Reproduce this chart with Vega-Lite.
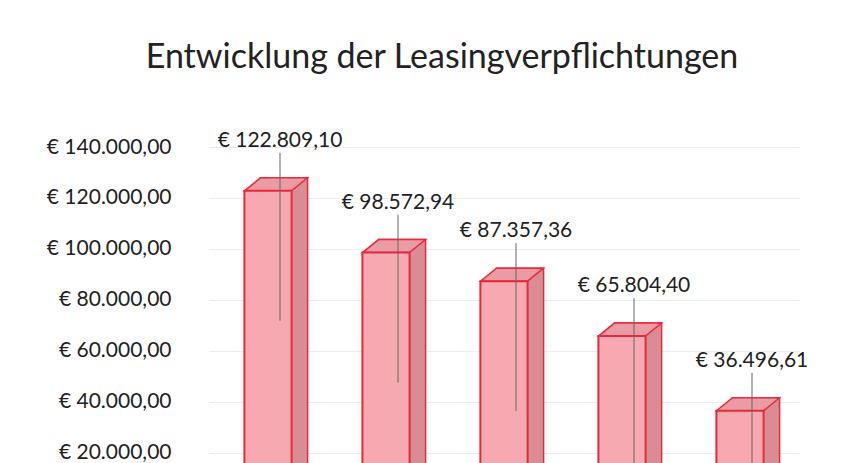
{
  "$schema": "https://vega.github.io/schema/vega-lite/v6.json",
  "width": 590,
  "height": 316,
  "autosize": {"type": "none"},
  "padding": {"left": 209, "top": 147, "right": 67, "bottom": 0},
  "background": "white",
  "config": {
    "locale": {"number": {"decimal": ",", "thousands": ".", "grouping": [3], "currency": ["€ ", ""]}},
    "view": {"stroke": null},
    "font": "Lato"
  },
  "title": {
    "text": "Entwicklung der Leasingverpflichtungen",
    "frame": "group",
    "anchor": "middle",
    "dx": -62,
    "offset": 55,
    "fontSize": 34,
    "font": "Lato",
    "fontWeight": "normal",
    "color": "#222222"
  },
  "data": {
    "values": [
      {"jahr": "1", "betrag": 122809.10},
      {"jahr": "2", "betrag": 98572.94},
      {"jahr": "3", "betrag": 87357.36},
      {"jahr": "4", "betrag": 65804.40},
      {"jahr": "5", "betrag": 36496.61}
    ]
  },
  "encoding": {
    "x": {"field": "jahr", "type": "nominal", "axis": null, "scale": {"paddingInner": 0.6, "paddingOuter": 0.3}},
    "y": {
      "field": "betrag",
      "type": "quantitative",
      "scale": {"domain": [16000, 140000], "nice": false, "zero": false},
      "axis": {
        "values": [20000, 40000, 60000, 80000, 100000, 120000, 140000],
        "format": "$,.2f",
        "title": null,
        "labelFont": "Lato",
        "labelFontSize": 21,
        "labelColor": "#222222",
        "labelPadding": 38,
        "ticks": false,
        "domain": false,
        "grid": true,
        "gridColor": "#e8ecf0",
        "gridWidth": 1
      }
    }
  },
  "layer": [
    {"mark": {"type": "bar", "xOffset": 16, "yOffset": -13, "y2Offset": -13, "fill": "#d98c94", "stroke": "#e8293b", "strokeWidth": 1.5}},
    {"mark": {"type": "point", "shape": "M -0.595 0 L 0.595 0 L 1 -0.329 L -0.19 -0.329 Z", "size": 6241, "filled": true, "fill": "#eb9ba3", "stroke": "#e8293b", "strokeWidth": 1.5, "opacity": 1}},
    {"mark": {"type": "bar", "fill": "#f6a9b0", "stroke": "#e8293b", "strokeWidth": 2}},
    {"mark": {"type": "rule", "xOffset": 12, "x2Offset": 12, "yOffset": -38, "y2Offset": 130, "color": "#666666", "strokeWidth": 1}, "encoding": {"y2": {"field": "betrag"}}},
    {"mark": {"type": "text", "dx": 12, "dy": -44, "fontSize": 21, "font": "Lato", "color": "#222222", "baseline": "alphabetic"}, "encoding": {"text": {"field": "betrag", "type": "quantitative", "format": "$,.2f"}}}
  ]
}
